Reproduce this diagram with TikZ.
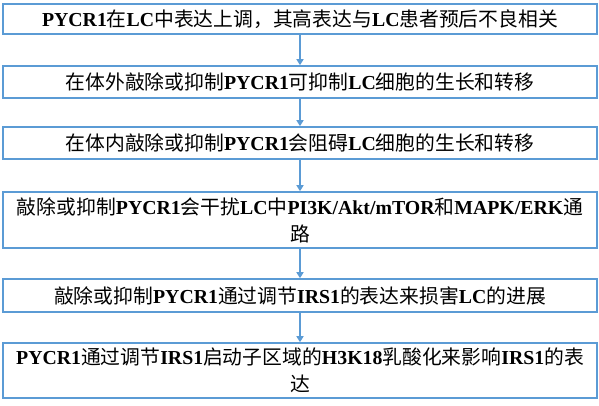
\documentclass[tikz,border=0pt]{standalone}
\usepackage{fontspec}
\setmainfont{Liberation Serif}
\newfontfamily\cjk{Noto Sans CJK SC}
\newcommand{\zh}[1]{{\cjk\mdseries #1}}
\usetikzlibrary{arrows.meta}
\definecolor{boxblue}{RGB}{91,155,213}

\begin{document}
\begin{tikzpicture}[x=1pt, y=-1pt,
    stage/.style={rectangle, draw=boxblue, line width=1.6pt,
                  minimum width=594pt, inner sep=0pt, align=center,
                  font=\fontsize{19.8}{27}\selectfont\bfseries},
    arr/.style={-{Triangle[length=6pt, width=7pt]}, draw=boxblue, line width=1.6pt},
]
\useasboundingbox (0,0) rectangle (599,405);

% --- Stages ---
\node[stage, minimum height=30pt] (s1) at (300,19)
  {PYCR1\zh{在}LC\zh{中表达上调，其高表达与}LC\zh{患者预后不良相关}};
\node[stage, minimum height=32pt] (s2) at (300,82)
  {\zh{在体外敲除或抑制}PYCR1\zh{可抑制}LC\zh{细胞的生长和转移}};
\node[stage, minimum height=32pt] (s3) at (300,143)
  {\zh{在体内敲除或抑制}PYCR1\zh{会阻碍}LC\zh{细胞的生长和转移}};
\node[stage, minimum height=56pt] (s4) at (300,220)
  {\zh{敲除或抑制}PYCR1\zh{会干扰}LC\zh{中}PI3K/Akt/mTOR\zh{和}MAPK/ERK\zh{通}\\\zh{路}};
\node[stage, minimum height=33pt] (s5) at (300,295.5)
  {\zh{敲除或抑制}PYCR1\zh{通过调节}IRS1\zh{的表达来损害}LC\zh{的进展}};
\node[stage, minimum height=55pt] (s6) at (300,370.5)
  {PYCR1\zh{通过调节}IRS1\zh{启动子区域的}H3K18\zh{乳酸化来影响}IRS1\zh{的表}\\\zh{达}};

% --- Flow ---
\draw[arr] (s1) -- (s2);
\draw[arr] (s2) -- (s3);
\draw[arr] (s3) -- (s4);
\draw[arr] (s4) -- (s5);
\draw[arr] (s5) -- (s6);

\end{tikzpicture}
\end{document}
